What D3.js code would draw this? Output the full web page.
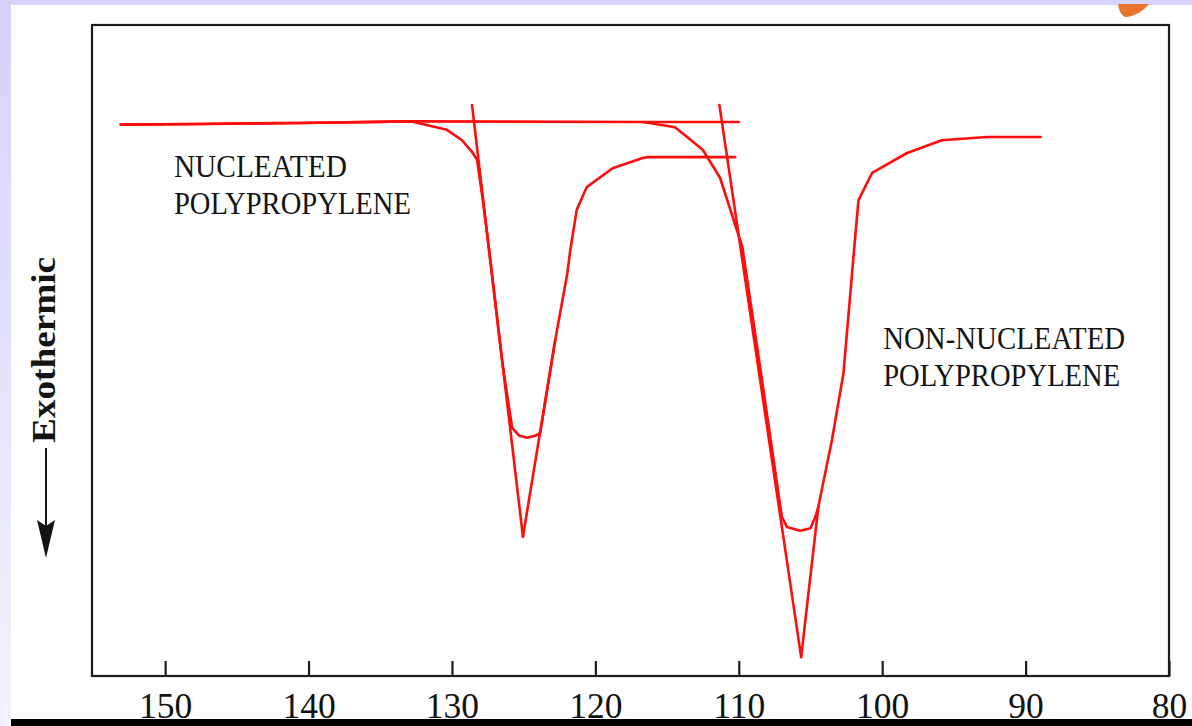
<!DOCTYPE html>
<html>
<head>
<meta charset="utf-8">
<script src="https://cdn.jsdelivr.net/npm/d3@7"></script>
<style>
html,body{margin:0;padding:0;background:#fff;overflow:hidden}
</style>
</head>
<body>
<svg id="chart" width="1192" height="726"></svg>
<script>
// ---- data ----
const tickValues = [150, 140, 130, 120, 110, 100, 90, 80];
const xDomain = [155.1, 80];
const yDomain = [0, -100]; // heat flow, arbitrary units, exothermic downward

// Nucleated polypropylene cooling curve (temperature °C, heat flow)
const nucTemp = [153.1, 147.6, 140.6, 132.9, 130.35, 129.3, 128.6, 128.25, 127.85, 127.5, 126.45, 125.8, 125.3, 124.75, 124.2, 123.85, 122.8, 121.95, 121.75, 121.3, 120.6, 118.8, 116.65, 116.3, 110.25];
const nucFlow = [-15.3, -15.2, -15.05, -14.8, -16.1, -17.7, -19.5, -20.7, -26.9, -33.0, -52.5, -61.9, -63.1, -63.4, -63.1, -62.7, -48.4, -38.1, -34.6, -28.4, -24.9, -22.0, -20.4, -20.3, -20.3];

// Non-nucleated polypropylene cooling curve
const nonTemp = [153.1, 147.6, 140.6, 132.9, 116.65, 114.45, 113.6, 112.5, 111.3, 109.75, 108.45, 107.0, 106.65, 105.7, 105.0, 104.65, 104.45, 103.5, 102.7, 101.9, 101.65, 100.7, 98.3, 95.85, 92.7, 88.95];
const nonFlow = [-15.3, -15.2, -15.05, -14.8, -14.9, -15.7, -17.2, -19.2, -23.5, -34.1, -53.5, -75.5, -77.1, -77.7, -77.3, -75.5, -74.0, -63.7, -53.5, -33.0, -26.9, -22.7, -19.7, -17.7, -17.2, -17.2];

// Construction (onset / tangent) lines: [temp, flow] pairs
const baselineExtTemp = [116.65, 110.0];
const baselineExtFlow = [-14.9, -14.9];
const nucLeftTanTemp = [128.6, 125.05];
const nucLeftTanFlow = [-12.3, -78.6];
const nucRightTanTemp = [125.05, 122.8];
const nucRightTanFlow = [-78.6, -48.4];
const nonLeftTanTemp = [111.35, 105.65];
const nonLeftTanFlow = [-12.3, -97.1];
const nonRightTanTemp = [105.65, 104.45];
const nonRightTanFlow = [-97.1, -74.0];

const labelNuc = ["NUCLEATED", "POLYPROPYLENE"];
const labelNon = ["NON-NUCLEATED", "POLYPROPYLENE"];
const yLabel = "Exothermic";

// ---- drawing ----
const svg = d3.select("#chart");
const W = 1192, H = 726;
const plot = {left: 92, right: 1169, top: 25, bottom: 676};

// slide background
const defs = svg.append("defs");
const grad = defs.append("linearGradient").attr("id", "sideGrad")
  .attr("x1", 0).attr("y1", 0).attr("x2", 0).attr("y2", 1);
grad.append("stop").attr("offset", "0%").attr("stop-color", "#d3d3fb");
grad.append("stop").attr("offset", "100%").attr("stop-color", "#f3f3fe");

svg.append("rect").attr("width", W).attr("height", H).attr("fill", "#ffffff");
svg.append("rect").attr("x", 0).attr("y", 0).attr("width", 11).attr("height", H).attr("fill", "url(#sideGrad)");
svg.append("rect").attr("x", 0).attr("y", 0).attr("width", W).attr("height", 5).attr("fill", "#d4d4fc");

// orange decoration at top right
svg.append("path")
  .attr("d", "M1118,4 L1149,4 C1144,10 1136,16 1126,17 C1121,16 1119,10 1118,4 Z")
  .attr("fill", "#e8732b");

const x = d3.scaleLinear().domain(xDomain).range([plot.left, plot.right]);
const y = d3.scaleLinear().domain(yDomain).range([plot.top, plot.bottom]);

// frame
svg.append("rect")
  .attr("x", plot.left).attr("y", plot.top)
  .attr("width", plot.right - plot.left).attr("height", plot.bottom - plot.top)
  .attr("fill", "none").attr("stroke", "#1c1c1c").attr("stroke-width", 2.2);

// x axis (ticks pointing inward)
const axis = d3.axisBottom(x).tickValues(tickValues).tickSizeInner(-15).tickSizeOuter(0)
  .tickFormat(d3.format("d"));
const gx = svg.append("g").attr("transform", `translate(0,${plot.bottom})`).call(axis);
gx.select(".domain").remove();
gx.selectAll(".tick line").attr("stroke", "#1c1c1c").attr("stroke-width", 2.2);
gx.selectAll(".tick text")
  .attr("y", 42).attr("dy", 0)
  .attr("fill", "#111")
  .style("font-family", "'Liberation Serif', 'Times New Roman', serif")
  .style("font-size", "35.5px");

// curves
const line = d3.line().x(d => x(d[0])).y(d => y(d[1]));
const zipPts = (t, v) => t.map((tt, i) => [tt, v[i]]);
const red = "#ff0d0d";

const series = [
  zipPts(nucTemp, nucFlow),
  zipPts(nonTemp, nonFlow),
  zipPts(baselineExtTemp, baselineExtFlow),
  zipPts(nucLeftTanTemp, nucLeftTanFlow),
  zipPts(nucRightTanTemp, nucRightTanFlow),
  zipPts(nonLeftTanTemp, nonLeftTanFlow),
  zipPts(nonRightTanTemp, nonRightTanFlow)
];
svg.append("g").selectAll("path").data(series).join("path")
  .attr("d", line)
  .attr("fill", "none")
  .attr("stroke", red)
  .attr("stroke-width", 2.6)
  .attr("stroke-linejoin", "round")
  .attr("stroke-linecap", "round");

// labels
const serif = "'Liberation Serif', 'Times New Roman', serif";
function drawLabel(lines, tx, baselines, widths) {
  lines.forEach((s, i) => {
    svg.append("text")
      .attr("x", tx).attr("y", baselines[i])
      .attr("textLength", widths[i]).attr("lengthAdjust", "spacingAndGlyphs")
      .attr("fill", "#141414")
      .style("font-family", serif).style("font-size", "31px")
      .text(s);
  });
}
drawLabel(labelNuc, x(149.39), [y(-23.4), y(-29.0)], [173, 237]);
drawLabel(labelNon, x(99.93), [y(-49.8), y(-55.4)], [242, 237]);

// y label: Exothermic with downward arrow
svg.append("text")
  .attr("transform", "translate(55,350) rotate(-90)")
  .attr("text-anchor", "middle")
  .attr("textLength", 186).attr("lengthAdjust", "spacingAndGlyphs")
  .attr("fill", "#141414")
  .style("font-family", serif).style("font-weight", "bold").style("font-size", "34px")
  .text(yLabel);
svg.append("line").attr("x1", 46).attr("x2", 46).attr("y1", 448).attr("y2", 528)
  .attr("stroke", "#141414").attr("stroke-width", 2);
svg.append("path").attr("d", "M46,558 L37,520 L46,526 L55,520 Z").attr("fill", "#141414");

// bottom black bar
svg.append("rect").attr("x", 11).attr("y", 719).attr("width", W - 11).attr("height", 7).attr("fill", "#000");
</script>
</body>
</html>
